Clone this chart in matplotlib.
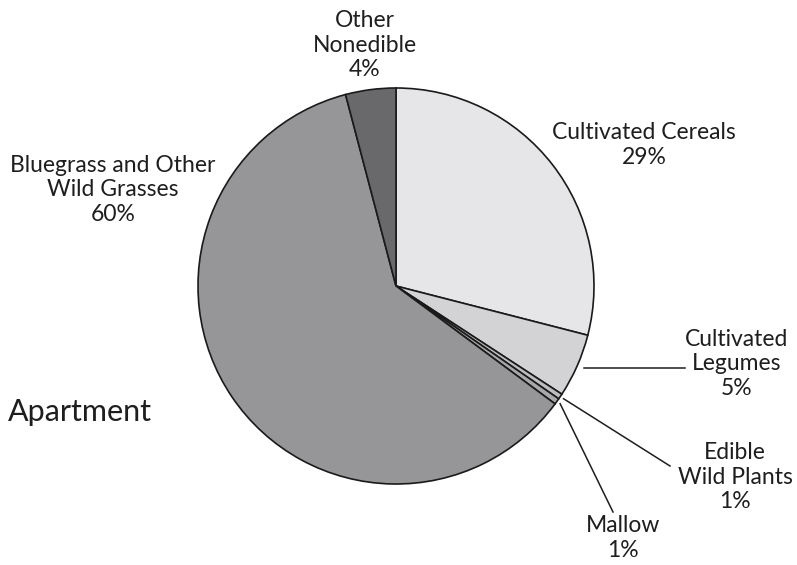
import numpy as np
import matplotlib as mpl
mpl.use('Agg')
import matplotlib.pyplot as plt

# slice data (percent), clockwise from 12 o'clock
labels = ['Cultivated Cereals', 'Cultivated\nLegumes', 'Edible\nWild Plants',
          'Mallow', 'Bluegrass and Other\nWild Grasses', 'Other\nNonedible']
values = [29.0, 5.2, 0.45, 0.5, 60.75, 4.1]
pct_text = ['29%', '5%', '1%', '1%', '60%', '4%']
colors = ['#e6e6e8', '#d3d3d5', '#bdbdbf', '#a8a8ab', '#969699', '#69696c']

plt.rcParams['font.family'] = ['Lato', 'DejaVu Sans']

W, H = 797, 565
fig = plt.figure(figsize=(W / 100, H / 100), dpi=100)
ax = fig.add_axes([0, 0, 1, 1])

cx, cy, R = 396, H - 286, 198
wedges, _ = ax.pie(values, colors=colors, startangle=90, counterclock=False,
                   center=(cx, cy), radius=R, frame=True,
                   wedgeprops=dict(edgecolor='#1a1a1a', linewidth=1.2))
ax.set_xlim(0, W)
ax.set_ylim(0, H)
ax.set_aspect('equal')
ax.axis('off')

fs = 16.5
tc = '#1e1e1e'
# label centres (pixels from top-left)
lab_pos = {
    0: (644, 145),
    1: (737, 364),
    2: (735, 477),
    3: (623, 538),
    4: (113, 190),
    5: (365, 45),
}
for i, (x, y) in lab_pos.items():
    ax.text(x, H - y, labels[i] + '\n' + pct_text[i], ha='center', va='center',
            fontsize=fs, color=tc, linespacing=1.22)

# leader lines for small slices: start just outside the wedge mid-angle
ends = {1: (685, 368), 2: (670, 466), 3: (613, 512)}
for i, (ex, ey) in ends.items():
    w = wedges[i]
    mid = np.deg2rad((w.theta1 + w.theta2) / 2)
    sx = cx + R * 1.02 * np.cos(mid)
    sy = cy + R * 1.02 * np.sin(mid)
    if i == 1:
        sy = H - ey
        ax.plot([sx + 3, ex], [sy, sy], color=tc, lw=1.1)
    else:
        ax.plot([sx, ex], [sy, H - ey], color=tc, lw=1.1)

ax.text(8, H - 412, 'Apartment', ha='left', va='center', fontsize=22, color=tc)

plt.savefig('out.png', dpi=100)
